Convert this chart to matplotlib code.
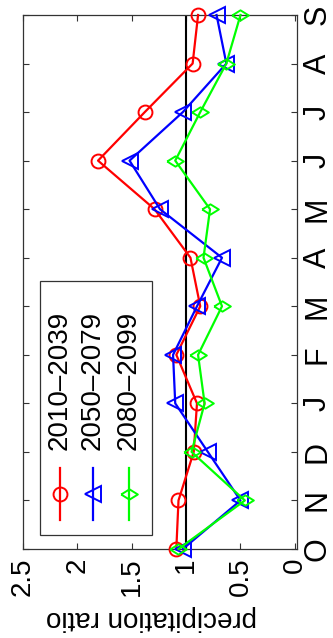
import matplotlib
matplotlib.use('Agg')
import matplotlib.pyplot as plt
from matplotlib.patches import Rectangle

plt.rcParams['font.family'] = ['Liberation Sans', 'DejaVu Sans']

# monthly precipitation ratio, October through September
months = ['O', 'N', 'D', 'J', 'F', 'M', 'A', 'M', 'J', 'J', 'A', 'S']
ratio_2010_2039 = [1.09, 1.07, 0.93, 0.90, 1.09, 0.87, 0.96, 1.29, 1.81, 1.38, 0.94, 0.89]
ratio_2050_2079 = [1.03, 0.50, 0.80, 1.10, 1.12, 0.90, 0.67, 1.24, 1.52, 1.03, 0.63, 0.72]
ratio_2080_2099 = [1.07, 0.46, 0.95, 0.83, 0.89, 0.67, 0.84, 0.78, 1.10, 0.87, 0.63, 0.50]
periods = ['2010\u20132039', '2050\u20132079', '2080\u20132099']
ratio_ticks = [0, 0.5, 1, 1.5, 2, 2.5]
ratio_ticklabels = ['0', '0.5', '1', '1.5', '2', '2.5']

# wide-and-short diamond (the plot is drawn turned on its side)
diamond = [(-1, 0), (0, 0.62), (1, 0), (0, -0.62), (-1, 0)]
styles = [('red', 'o', 10), ('blue', '<', 11), ('#00ff00', diamond, 12)]
series = [ratio_2010_2039, ratio_2050_2079, ratio_2080_2099]

fig = plt.figure(figsize=(3.33, 6.38), dpi=100)
ax = fig.add_axes([0.069, 0.1395, 0.823, 0.837])

pos = list(range(1, len(months) + 1))
for vals, (c, m, ms) in zip(series, styles):
    ax.plot(vals, pos, color=c, marker=m, ms=ms, mfc='none', mec=c,
            mew=1.4, lw=1.6, clip_on=False, zorder=3)

ax.axvline(1, color='k', lw=1.5, zorder=2)

ax.set_xlim(2.5, -0.02)
ax.set_ylim(1, 12)
ax.set_xticks(ratio_ticks)
ax.set_xticklabels(ratio_ticklabels, rotation=90, fontsize=20)
ax.set_yticks(pos)
ax.set_yticklabels(months, rotation=90, fontsize=22, va='center')
ax.yaxis.tick_right()
ax.tick_params(direction='in', length=4, width=0.8, color='0.2',
               top=True, bottom=True, left=True, right=True)
ax.tick_params(axis='x', pad=6)
ax.tick_params(axis='y', pad=4)
for s in ax.spines.values():
    s.set_color('0.2')
    s.set_linewidth(0.9)

ax.set_xlabel('precipitation ratio', fontsize=20, rotation=180)
ax.xaxis.set_label_coords(0.47, -0.105)

# legend drawn by hand so its entries read along the long side
ax.add_patch(Rectangle((0.062, 0.026), 0.409, 0.476, transform=ax.transAxes,
                       fill=True, fc='white', ec='0.2', lw=0.9, zorder=4))
cols = [0.135, 0.255, 0.387]
for x, label, (c, m, ms) in zip(cols, periods, styles):
    ax.plot([x, x], [0.054, 0.152], color=c, lw=1.6, transform=ax.transAxes,
            zorder=5, clip_on=False)
    ax.plot([x], [0.103], color=c, marker=m, ms=ms, mfc='none', mec=c,
            mew=1.4, transform=ax.transAxes, zorder=5, clip_on=False)
    ax.text(x, 0.185, label, rotation=90, ha='center', va='bottom',
            fontsize=20, transform=ax.transAxes, zorder=6)

fig.savefig('out.png', dpi=100)
